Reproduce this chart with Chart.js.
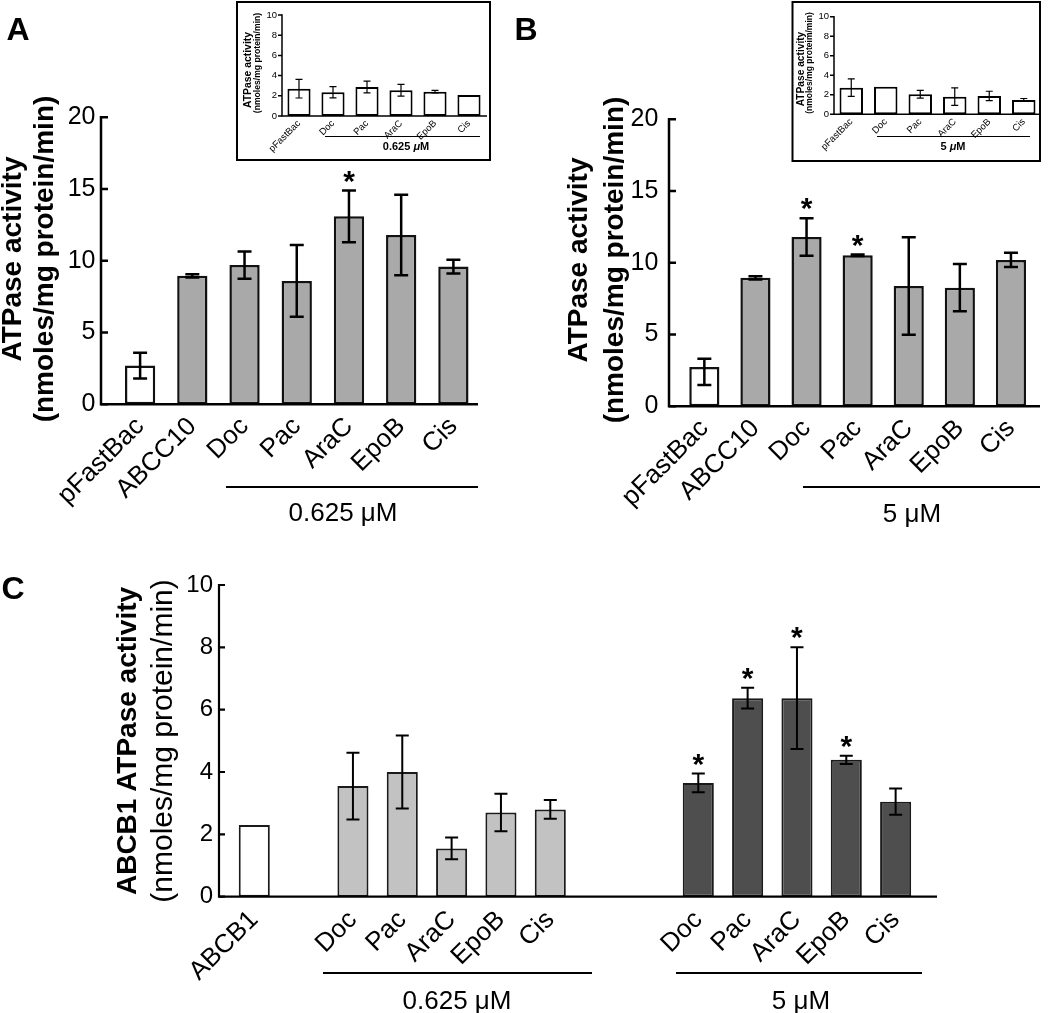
<!DOCTYPE html>
<html lang="en">
  <head>
    <meta charset="UTF-8" />
    <title>ATPase activity</title>
    <script src="https://cdn.jsdelivr.net/npm/chart.js"></script>
    <style>
      html, body { margin: 0; padding: 0; background: #fff; }
      #page {
        position: relative; width: 1050px; height: 1013px; overflow: hidden;
        font-family: "Liberation Sans", Arial, Helvetica, sans-serif; color: #000;
      }
      #page canvas { position: absolute; left: 0; top: 0; }
      .txt { position: absolute; white-space: nowrap; line-height: 1; transform: translate(-50%, -50%); }
      .rot { transform: translate(-50%, -50%) rotate(-90deg); }
      .rule { position: absolute; background: #000; }
    </style>
  </head>
  <body>
    <div id="page">
      <canvas id="chartA" width="1050" height="1013"></canvas>
      <canvas id="chartB" width="1050" height="1013"></canvas>
      <canvas id="chartC" width="1050" height="1013"></canvas>
      <canvas id="insetA" width="1050" height="1013"></canvas>
      <canvas id="insetB" width="1050" height="1013"></canvas>

      <div class="txt" style="left:18px;top:29px;font-weight:bold;font-size:32px">A</div>
      <div class="txt" style="left:526px;top:29px;font-weight:bold;font-size:32px">B</div>
      <div class="txt" style="left:13px;top:588px;font-weight:bold;font-size:32px">C</div>

      <div class="txt rot" style="left:12px;top:259px;font-weight:bold;font-size:28px">ATPase activity</div>
      <div class="txt rot" style="left:44px;top:259px;font-weight:bold;font-size:28px">(nmoles/mg protein/min)</div>
      <div class="txt rot" style="left:578px;top:260px;font-weight:bold;font-size:28px">ATPase activity</div>
      <div class="txt rot" style="left:614px;top:260px;font-weight:bold;font-size:28px">(nmoles/mg protein/min)</div>
      <div class="txt rot" style="left:127px;top:741px;font-weight:bold;font-size:28px">ABCB1 ATPase activity</div>
      <div class="txt rot" style="left:162px;top:741px;font-size:30px">(nmoles/mg protein/min)</div>

      <div class="txt rot" style="left:247.5px;top:70px;font-weight:bold;font-size:10.4px">ATPase activity</div>
      <div class="txt rot" style="left:257px;top:62.5px;font-weight:bold;font-size:8.6px">(nmoles/mg protein/min)</div>
      <div class="txt rot" style="left:800.5px;top:69px;font-weight:bold;font-size:10.2px">ATPase activity</div>
      <div class="txt rot" style="left:809px;top:62.5px;font-weight:bold;font-size:8.5px">(nmoles/mg proteim/min)</div>

      <div class="rule" style="left:226px;top:486px;width:252px;height:2px"></div>
      <div class="txt" style="left:343px;top:512px;font-size:26px">0.625 μM</div>
      <div class="rule" style="left:803px;top:486px;width:237px;height:2px"></div>
      <div class="txt" style="left:912px;top:513px;font-size:26px">5 μM</div>
      <div class="rule" style="left:323px;top:972px;width:269px;height:2px"></div>
      <div class="txt" style="left:457px;top:1000px;font-size:26px">0.625 μM</div>
      <div class="rule" style="left:676px;top:972px;width:246px;height:2px"></div>
      <div class="txt" style="left:801px;top:1000px;font-size:26px">5 μM</div>

      <div class="rule" style="left:325px;top:136px;width:155px;height:1px"></div>
      <div class="txt" style="left:406px;top:146px;font-weight:bold;font-size:11px">0.625 <i>μ</i>M</div>
      <div class="rule" style="left:877px;top:136px;width:153px;height:1px"></div>
      <div class="txt" style="left:953px;top:146px;font-weight:bold;font-size:11px">5 <i>μ</i>M</div>
    </div>

    <script>
      // ---- data (mean, SD) ----
      const labelsA = ["pFastBac", "ABCC10", "Doc", "Pac", "AraC", "EpoB", "Cis"];
      const valuesA = [2.7, 8.95, 9.7, 8.6, 13.1, 11.8, 9.6];
      const errorsA = [0.9, 0.12, 0.95, 2.5, 1.8, 2.8, 0.48];
      const starsA = [0, 0, 0, 0, 1, 0, 0];

      const labelsB = ["pFastBac", "ABCC10", "Doc", "Pac", "AraC", "EpoB", "Cis"];
      const valuesB = [2.74, 8.95, 11.8, 10.52, 8.38, 8.27, 10.2];
      const errorsB = [[1.26, 0.58], 0.12, 1.3, 0.05, 3.4, 1.65, 0.5];
      const starsB = [0, 0, 1, 1, 0, 0, 0];

      const labelsInset = ["pFastBac", "Doc", "Pac", "AraC", "EpoB", "Cis"];
      const valuesInsetA = [2.7, 2.35, 2.87, 2.55, 2.41, 2.08];
      const errorsInsetA = [0.92, 0.55, 0.58, 0.58, 0.13, 0];
      const valuesInsetB = [2.73, 2.83, 2.05, 1.81, 1.88, 1.47];
      const errorsInsetB = [0.9, 0, 0.4, 0.9, 0.48, 0.15];

      const labelsC = ["ABCB1", "", "Doc", "Pac", "AraC", "EpoB", "Cis", "", "", "Doc", "Pac", "AraC", "EpoB", "Cis"];
      const doseC = ["none", null, "0.625", "0.625", "0.625", "0.625", "0.625", null, null, "5", "5", "5", "5", "5"];
      const valuesC = [2.3, null, 3.55, 4.0, 1.55, 2.7, 2.8, null, null, 3.65, 6.37, 6.37, 4.39, 3.05];
      const errorsC = [0, null, 1.07, 1.17, 0.35, 0.6, 0.3, null, null, 0.3, 0.33, 1.63, 0.13, 0.42];
      const starsC = [0, 0, 0, 0, 0, 0, 0, 0, 0, 1, 1, 1, 1, 0];

      const ticksAB = { max: 20, step: 5 };
      const ticksC = { max: 10, step: 2 };
      const ticksInset = { max: 10, step: 2 };

      // ---- drawing ----
      const W = 1050, H = 1013;
      const FONT = '"Liberation Sans", Arial, Helvetica, sans-serif';
      const GRAY = "#a9a9a9";
      const doseColour = { none: "#ffffff", "0.625": "#c2c2c2", "5": "#4e4e4e" };

      function marksPlugin(look) {
        return {
          id: "marks",
          beforeDraw(chart) {
            if (!look.box) return;
            const ctx = chart.ctx, b = look.box;
            ctx.save();
            ctx.fillStyle = "#fff";
            ctx.fillRect(b.x, b.y, b.w, b.h);
            ctx.lineWidth = b.line;
            ctx.strokeStyle = "#000";
            ctx.strokeRect(b.x, b.y, b.w, b.h);
            ctx.restore();
          },
          afterDatasetsDraw(chart) {
            const ctx = chart.ctx, ys = chart.scales.y, area = chart.chartArea;
            ctx.save();
            ctx.strokeStyle = "#000";
            ctx.fillStyle = "#000";
            // axes
            ctx.lineWidth = look.axisWidth;
            ctx.beginPath();
            ctx.moveTo(look.axisX, area.top - look.axisWidth / 2);
            ctx.lineTo(look.axisX, area.bottom);
            ctx.lineTo(look.axisEnd, area.bottom);
            ctx.stroke();
            ctx.beginPath();
            ys.ticks.forEach(function (t) {
              const y = ys.getPixelForValue(t.value);
              ctx.moveTo(look.axisX, y);
              ctx.lineTo(look.axisX + look.tickLen, y);
            });
            ctx.stroke();
            // error bars and stars
            const ds = chart.data.datasets[0];
            chart.getDatasetMeta(0).data.forEach(function (bar, i) {
              const v = ds.data[i];
              if (v === null || v === undefined) return;
              const e = ds.errors[i] || 0;
              const lo = Array.isArray(e) ? e[0] : e;
              const hi = Array.isArray(e) ? e[1] : e;
              const yTop = ys.getPixelForValue(v + hi);
              const yBot = ys.getPixelForValue(v - lo);
              if (hi > 0 || lo > 0) {
                ctx.lineWidth = look.errWidth;
                ctx.beginPath();
                ctx.moveTo(bar.x, yTop);
                ctx.lineTo(bar.x, yBot);
                ctx.moveTo(bar.x - look.cap, yTop);
                ctx.lineTo(bar.x + look.cap, yTop);
                ctx.moveTo(bar.x - look.cap, yBot);
                ctx.lineTo(bar.x + look.cap, yBot);
                ctx.stroke();
              }
              if (ds.stars && ds.stars[i]) {
                ctx.font = "bold " + look.starSize + "px " + FONT;
                ctx.textAlign = "center";
                ctx.textBaseline = "alphabetic";
                ctx.fillText("*", bar.x, yTop - look.starGap + 0.57 * look.starSize);
              }
            });
            ctx.restore();
          }
        };
      }

      function barChart(id, labels, values, errors, stars, colours, yTicks, look) {
        const a = look.area;
        return new Chart(document.getElementById(id), {
          type: "bar",
          data: {
            labels: labels,
            datasets: [{
              data: values,
              errors: errors,
              stars: stars,
              backgroundColor: colours,
              borderColor: look.barLine,
              borderWidth: look.barBorder,
              borderSkipped: false,
              categoryPercentage: 1,
              barPercentage: look.barPct
            }]
          },
          options: {
            responsive: false,
            animation: false,
            events: [],
            layout: { padding: { left: 0, top: a.t, right: W - a.r, bottom: 0 } },
            plugins: { legend: { display: false }, tooltip: { enabled: false } },
            scales: {
              x: {
                grid: { display: false, drawTicks: false },
                border: { display: false },
                ticks: {
                  autoSkip: false, minRotation: 45, maxRotation: 45,
                  padding: look.xPad, color: "#000",
                  font: { family: FONT, size: look.xFont }
                },
                afterFit: function (s) {
                  s.height = H - a.b;
                  s.paddingLeft = 0; s.paddingRight = 0; s.paddingTop = 0; s.paddingBottom = 0;
                }
              },
              y: {
                min: 0, max: yTicks.max,
                grid: { display: false, drawTicks: false },
                border: { display: false },
                ticks: {
                  stepSize: yTicks.step, padding: a.l - look.labelRight, color: "#000",
                  font: { family: FONT, size: look.yFont }
                },
                afterFit: function (s) {
                  s.width = a.l;
                  s.paddingLeft = 0; s.paddingRight = 0; s.paddingTop = 0; s.paddingBottom = 0;
                }
              }
            }
          },
          plugins: [marksPlugin(look)]
        });
      }

      const mainLook = {
        barLine: "#111", barBorder: 2.5, barPct: 0.58,
        xFont: 26, yFont: 25, xPad: 7,
        axisWidth: 2.5, tickLen: 7, errWidth: 2.5, cap: 7, starSize: 30, starGap: 17
      };
      const insetLook = {
        barLine: "#000", barBorder: 2, barPct: 0.68,
        xFont: 9.5, yFont: 9.5, xPad: 2,
        axisWidth: 1.5, tickLen: -4, errWidth: 1.2, cap: 3.5, starSize: 10, starGap: 5
      };

      barChart("chartA", labelsA, valuesA, errorsA, starsA,
        labelsA.map(function (l, i) { return i === 0 ? "#fff" : GRAY; }), ticksAB,
        Object.assign({}, mainLook, {
          area: { l: 114, r: 479.5, t: 117.3, b: 404.3 }, labelRight: 95.5, axisX: 101, axisEnd: 478
        }));

      barChart("chartB", labelsB, valuesB, errorsB, starsB,
        labelsB.map(function (l, i) { return i === 0 ? "#fff" : GRAY; }), ticksAB,
        Object.assign({}, mainLook, {
          barPct: 0.59,
          area: { l: 678.8, r: 1036.5, t: 119.3, b: 406.3 }, labelRight: 658.3, axisX: 669, axisEnd: 1040
        }));

      barChart("chartC", labelsC, valuesC, errorsC, starsC,
        doseC.map(function (d) { return d ? doseColour[d] : "#fff"; }), ticksC,
        Object.assign({}, mainLook, {
          barLine: "#1a1a1a", barBorder: 2, barPct: 0.63, yFont: 24, xPad: 8,
          axisWidth: 2.2, tickLen: 6, errWidth: 2, cap: 6.5,
          area: { l: 229.6, r: 920.3, t: 585, b: 896.7 }, labelRight: 213, axisX: 219, axisEnd: 937
        }));

      barChart("insetA", labelsInset, valuesInsetA, errorsInsetA, null,
        "#fff", ticksInset,
        Object.assign({}, insetLook, {
          area: { l: 282, r: 486, t: 15, b: 116 }, labelRight: 277, axisX: 282, axisEnd: 487,
          box: { x: 237, y: 2, w: 253, h: 158, line: 2 }
        }));

      barChart("insetB", labelsInset, valuesInsetB, errorsInsetB, null,
        "#fff", ticksInset,
        Object.assign({}, insetLook, {
          area: { l: 834, r: 1041, t: 16.7, b: 114.3 }, labelRight: 829, axisX: 834, axisEnd: 1040,
          box: { x: 792.5, y: 2, w: 247.5, h: 159, line: 2 }
        }));
    </script>
  </body>
</html>
